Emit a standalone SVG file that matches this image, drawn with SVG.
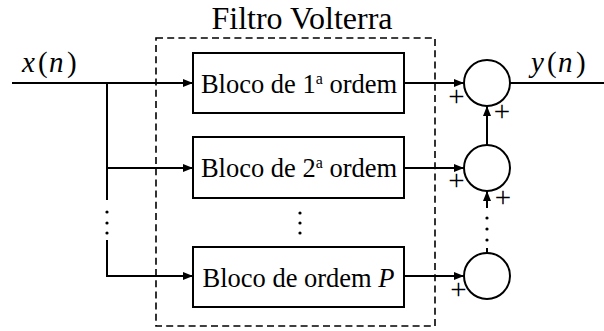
<svg xmlns="http://www.w3.org/2000/svg" width="604" height="331" viewBox="0 0 604 331" font-family="'Liberation Serif', 'Times New Roman', serif">
  <defs>
    <marker id="arrow" viewBox="0 0 10 8" refX="10" refY="4" markerWidth="10" markerHeight="8" markerUnits="userSpaceOnUse" orient="auto">
      <path d="M0,0 L10,4 L0,8 z" fill="#000"/>
    </marker>
  </defs>
  <style>
    .box { fill: #fff; stroke: #000; stroke-width: 2; }
    .ring { fill: #fff; stroke: #000; stroke-width: 2; }
    .wire { fill: none; stroke: #000; stroke-width: 2; }
    .dot { fill: #000; }
    .frame { fill: none; stroke: #000; stroke-width: 1.6; stroke-dasharray: 7 4.2; }
  </style>

  <rect width="604" height="331" fill="#fff"/>

  <!-- Volterra filter boundary -->
  <g id="filtro">
    <rect class="frame" x="156" y="38" width="279" height="288"/>
    <text font-family="Liberation Serif, serif" font-size="32" x="302" y="29" text-anchor="middle" fill="#000">Filtro Volterra</text>
  </g>

  <!-- connectors -->
  <g id="connectors">
    <!-- input distribution -->
    <path class="wire" d="M12,83 H193" marker-end="url(#arrow)"/>
    <path class="wire" d="M107,83 V200"/>
    <path class="wire" d="M107,168 H193" marker-end="url(#arrow)"/>
    <path class="wire" d="M107,240 V276 H193" marker-end="url(#arrow)"/>
    <circle class="dot" cx="107" cy="212" r="1.6"/>
    <circle class="dot" cx="107" cy="223" r="1.6"/>
    <circle class="dot" cx="107" cy="233" r="1.6"/>
    <!-- block outputs into adders -->
    <path class="wire" d="M404,83 H464" marker-end="url(#arrow)"/>
    <path class="wire" d="M404,168 H464" marker-end="url(#arrow)"/>
    <path class="wire" d="M404,276 H464" marker-end="url(#arrow)"/>
    <!-- adder chain -->
    <path class="wire" d="M487,145 V106" marker-end="url(#arrow)"/>
    <path class="wire" d="M487,208 V191" marker-end="url(#arrow)"/>
    <path class="wire" d="M487,253 V248"/>
    <circle class="dot" cx="487" cy="218" r="1.6"/>
    <circle class="dot" cx="487" cy="229" r="1.6"/>
    <circle class="dot" cx="487" cy="240" r="1.6"/>
    <!-- output -->
    <path class="wire" d="M510,83 H604"/>
    <!-- ellipsis between blocks -->
    <circle class="dot" cx="300" cy="213" r="1.6"/>
    <circle class="dot" cx="300" cy="223" r="1.6"/>
    <circle class="dot" cx="300" cy="233" r="1.6"/>
  </g>

  <!-- signal labels -->
  <g id="entrada">
    <text font-family="Liberation Serif, serif" font-size="29" y="72" fill="#000"><tspan x="22" font-style="italic">x</tspan><tspan x="38">(</tspan><tspan x="49" font-style="italic">n</tspan><tspan x="67">)</tspan></text>
  </g>
  <g id="saida">
    <text font-family="Liberation Serif, serif" font-size="29" y="72" fill="#000"><tspan x="531" font-style="italic">y</tspan><tspan x="547">(</tspan><tspan x="558" font-style="italic">n</tspan><tspan x="576">)</tspan></text>
  </g>

  <!-- processing blocks -->
  <g id="bloco1">
    <rect class="box" x="193" y="53" width="211" height="60"/>
    <text font-family="Liberation Serif, serif" font-size="26.5" x="299" y="93" text-anchor="middle" fill="#000">Bloco de 1<tspan dy="-9" font-size="16">a</tspan><tspan dy="9"> ordem</tspan></text>
  </g>
  <g id="bloco2">
    <rect class="box" x="193" y="137" width="211" height="61"/>
    <text font-family="Liberation Serif, serif" font-size="26.5" x="299" y="177" text-anchor="middle" fill="#000">Bloco de 2<tspan dy="-9" font-size="16">a</tspan><tspan dy="9"> ordem</tspan></text>
  </g>
  <g id="blocoP">
    <rect class="box" x="193" y="247" width="211" height="60"/>
    <text font-family="Liberation Serif, serif" font-size="26.5" x="298.5" y="287" text-anchor="middle" fill="#000">Bloco de ordem <tspan font-style="italic">P</tspan></text>
  </g>

  <!-- adders -->
  <g id="soma1">
    <circle class="ring" cx="487" cy="83" r="23"/>
    <text font-family="Liberation Serif, serif" font-size="29" x="456.5" y="106" text-anchor="middle" fill="#000">+</text>
    <text font-family="Liberation Serif, serif" font-size="29" x="502" y="121" text-anchor="middle" fill="#000">+</text>
  </g>
  <g id="soma2">
    <circle class="ring" cx="487" cy="168" r="23"/>
    <text font-family="Liberation Serif, serif" font-size="29" x="456.5" y="190" text-anchor="middle" fill="#000">+</text>
    <text font-family="Liberation Serif, serif" font-size="29" x="503" y="207" text-anchor="middle" fill="#000">+</text>
  </g>
  <g id="somaP">
    <circle class="ring" cx="487" cy="276" r="23"/>
    <text font-family="Liberation Serif, serif" font-size="29" x="458.5" y="299" text-anchor="middle" fill="#000">+</text>
  </g>
</svg>
